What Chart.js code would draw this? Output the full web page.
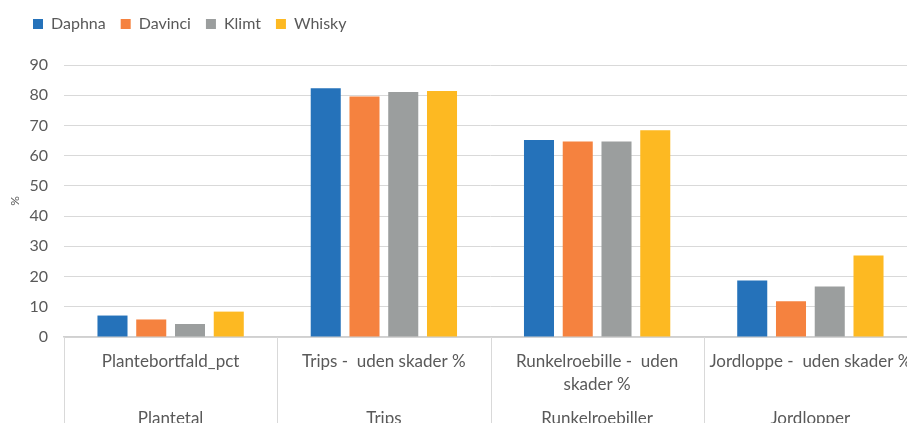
<!DOCTYPE html>
<html>
<head>
<meta charset="utf-8">
<script src="https://cdn.jsdelivr.net/npm/chart.js@4"></script>
<style>
html,body{margin:0;padding:0;overflow:hidden;background:#fff;}
#wrap{width:918px;height:432px;}
</style>
</head>
<body>
<div id="wrap"><canvas id="c" width="918" height="432"></canvas></div>
<script>
const categories = [
  ['Plantebortfald_pct'],
  ['Trips -  uden skader %'],
  ['Runkelroebille -  uden', 'skader %'],
  ['Jordloppe -  uden skader %']
];
const groups = ['Plantetal', 'Trips', 'Runkelroebiller', 'Jordlopper'];
const seriesNames = ['Daphna', 'Davinci', 'Klimt', 'Whisky'];
const daphna  = [7.1, 82.3, 65.2, 18.7];
const davinci = [5.8, 79.6, 64.7, 11.8];
const klimt   = [4.3, 81.1, 64.7, 16.7];
const whisky  = [8.4, 81.4, 68.4, 27.0];
const yTicks = [0, 10, 20, 30, 40, 50, 60, 70, 80, 90];

const colors = ['#2572BA', '#F5823F', '#9B9E9E', '#FDB922'];
const seriesValues = [daphna, davinci, klimt, whisky];
const FONT = 'Lato, "Open Sans", sans-serif';
const TXT = '#595959';
const GRID = '#d9d9d9';

const separators = {
  id: 'separators',
  afterDraw(chart) {
    const xs = chart.scales.x;
    const ctx = chart.ctx;
    const n = categories.length;
    const w = (xs.right - xs.left) / n;
    ctx.save();
    ctx.strokeStyle = GRID;
    ctx.lineWidth = 1;
    for (let i = 0; i <= n; i++) {
      const x = Math.round(xs.getPixelForValue(i) - w / 2) + 0.5;
      ctx.beginPath();
      ctx.moveTo(x, xs.top);
      ctx.lineTo(x, chart.height);
      ctx.stroke();
    }
    ctx.restore();
  }
};

const legendShift = {
  id: 'legendShift',
  afterLayout(chart) {
    if (chart.legend) { chart.legend.left += 18; chart.legend.right += 18; }
  }
};

new Chart(document.getElementById('c'), {
  type: 'bar',
  data: {
    labels: categories,
    datasets: seriesNames.map((name, i) => ({
      label: name,
      data: seriesValues[i],
      backgroundColor: colors[i],
      borderWidth: 0,
      categoryPercentage: 0.727,
      barPercentage: 0.775,
      xAxisID: 'x'
    }))
  },
  options: {
    responsive: false,
    animation: false,
    devicePixelRatio: 1,
    layout: { padding: { top: 1, left: 0, right: 1, bottom: 0 } },
    plugins: {
      legend: {
        position: 'top',
        align: 'start',
        labels: {
          boxWidth: 10, boxHeight: 10, padding: 15,
          color: TXT,
          font: { family: FONT, size: 16 }
        }
      },
      title: {
        display: true, text: '', position: 'top', weight: 500,
        font: { size: 10, lineHeight: 1 },
        padding: { top: 0, bottom: 13 }
      },
      tooltip: { enabled: false }
    },
    scales: {
      x: {
        position: 'bottom',
        grid: { display: false },
        border: { display: true, color: '#d0d0d0', width: 1.5 },
        ticks: {
          color: TXT, padding: 5, maxRotation: 0, autoSkip: false,
          font: { family: FONT, size: 17, lineHeight: 1.35 }
        },
        afterFit(s) { s.height = 59; }
      },
      x2: {
        type: 'category',
        position: 'bottom',
        labels: groups,
        offset: true,
        grid: { display: false, drawTicks: false },
        border: { display: false },
        ticks: {
          color: TXT, padding: 11, maxRotation: 0, autoSkip: false,
          font: { family: FONT, size: 17, lineHeight: 1.35 }
        },
        afterFit(s) { s.height = 36; }
      },
      y: {
        min: 0, max: 90,
        afterBuildTicks(s) { s.ticks = yTicks.map(v => ({ value: v })); },
        grid: { color: GRID, lineWidth: 1, drawTicks: false },
        border: { display: false },
        ticks: {
          color: TXT, padding: 16,
          font: { family: FONT, size: 16 }
        },
        title: {
          display: true, text: '%', color: TXT,
          font: { family: FONT, size: 12 },
          padding: { top: 8, bottom: 0 }
        },
        afterFit(s) { s.width = 64; }
      }
    }
  },
  plugins: [separators, legendShift]
});
</script>
</body>
</html>
